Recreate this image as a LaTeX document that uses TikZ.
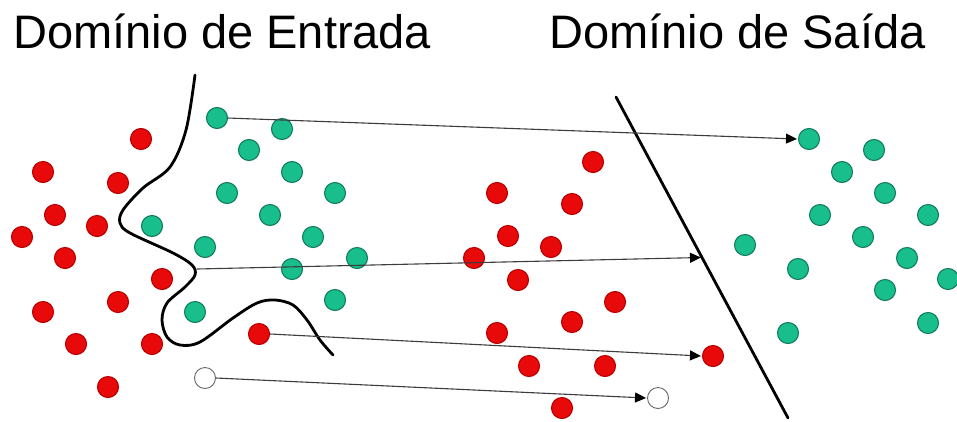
\documentclass[tikz,border=0pt]{standalone}
\usepackage{fontspec}
\setmainfont{Liberation Sans}
\usetikzlibrary{arrows.meta,calc}

\definecolor{dotred}{RGB}{232,10,10}
\definecolor{dotredline}{RGB}{185,0,0}
\definecolor{dotgreen}{RGB}{24,190,140}
\definecolor{dotgreenline}{RGB}{20,125,95}
\definecolor{maparrow}{RGB}{60,60,60}

\tikzset{
  dotbase/.style={circle, inner sep=0pt, minimum size=21pt, line width=1.1pt},
  rdot/.style={dotbase, fill=dotred, draw=dotredline},
  gdot/.style={dotbase, fill=dotgreen, draw=dotgreenline},
  wdot/.style={dotbase, fill=white, draw=gray!80!black, line width=0.9pt},
  border/.style={line width=2.8pt, black, line cap=round},
  maplink/.style={line width=1.1pt, maparrow, -{Triangle[length=11pt,width=10pt,black]}},
  heading/.style={anchor=base west, inner sep=0pt, font=\fontsize{47}{50}\selectfont}
}

\begin{document}
\begin{tikzpicture}[x=1pt,y=-1pt]
  \useasboundingbox[fill=white] (0,0) rectangle (957,421);

  % headings
  \node[heading] (hin)  at (13,48)  {Domínio de Entrada};
  \node[heading] (hout) at (549,48) {Domínio de Saída};

  % non-linear boundary in the input domain
  \draw[border] plot[smooth, tension=0.55] coordinates {
    (195,75) (186,130) (170,167) (143,188) (123,210) (120,223) (130,233)
    (173,253) (192,265) (195,275) (185,287) (167,303) (162,320) (167,337)
    (180,345) (200,342) (233,318) (257,303) (275,300) (293,305) (307,320)
    (320,340) (333,355)};

  % linear boundary in the output domain
  \coordinate (dtop) at (616,97);
  \coordinate (dbot) at (788,418);
  \draw[border] (dtop) -- (dbot);

  % input domain: red class
  \foreach \x/\y [count=\i] in {141/139, 43/172, 118/183, 55/215, 97/226,
      22/237, 65/258, 162/279, 118/302, 43/312, 76/344, 152/344, 108/387, 259/334}
    \node[rdot] (rin\i) at (\x,\y) {};

  % input domain: green class
  \foreach \x/\y [count=\i] in {217/118, 282/129, 249/150, 292/172, 227/193,
      335/193, 270/215, 152/226, 313/237, 205/247, 357/258, 292/269, 335/300, 195/312}
    \node[gdot] (gin\i) at (\x,\y) {};

  % output domain: red class
  \foreach \x/\y [count=\i] in {593/162, 497/193, 572/204, 508/236, 551/247,
      474/258, 518/280, 615/302, 572/322, 497/333, 529/366, 605/366, 562/408, 713/356}
    \node[rdot] (rout\i) at (\x,\y) {};

  % output domain: green class
  \foreach \x/\y [count=\i] in {809/139, 874/150, 842/172, 885/193, 820/215,
      928/215, 863/237, 745/245, 907/258, 798/269, 948/279, 885/290, 928/323, 788/333}
    \node[gdot] (gout\i) at (\x,\y) {};

  % unlabelled sample and its image
  \node[wdot] (win)  at (205,378) {};
  \node[wdot] (wout) at (658,398) {};

  % boundary point and its image on the separating line
  \coordinate (bin)  at (197,269);
  \coordinate (bout) at ($(dtop)!0.5!(dbot)$);

  % mapping arrows
  \draw[maplink] (gin1.center) ++(10.5,0) -- ([xshift=-1pt]gout1.west);
  \draw[maplink] (bin) -- ([xshift=-1pt]bout);
  \draw[maplink] (rin14.east) -- ([xshift=-1pt]rout14.west);
  \draw[maplink] (win.east) -- ([xshift=-1pt]wout.west);
\end{tikzpicture}
\end{document}
